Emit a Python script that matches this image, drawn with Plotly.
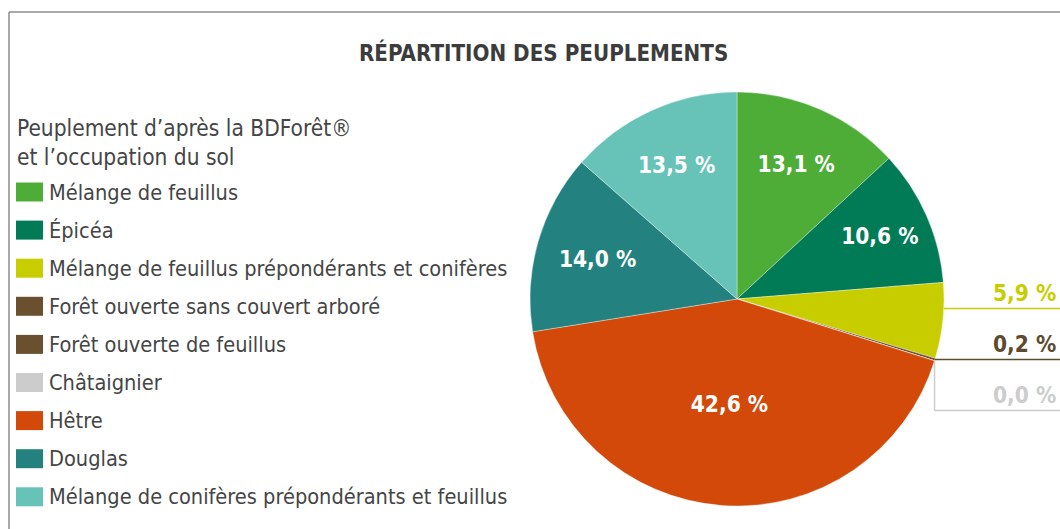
import math
import plotly.graph_objects as go

# ---- data ----
categories = [
    "Mélange de feuillus",
    "Épicéa",
    "Mélange de feuillus prépondérants et conifères",
    "Forêt ouverte sans couvert arboré",
    "Forêt ouverte de feuillus",
    "Châtaignier",
    "Hêtre",
    "Douglas",
    "Mélange de conifères prépondérants et feuillus",
]
values = [13.1, 10.6, 5.9, 0.2, 0.0, 0.0, 42.6, 14.0, 13.5]
show_label = [True, True, True, True, False, True, True, True, True]
colors = ["#4DAD36", "#007B56", "#C8CD00", "#6B5030", "#6B5030",
          "#CCCCCC", "#D2490A", "#238280", "#67C2B8"]
label_colors = ["#FFFFFF", "#FFFFFF", "#C8CD00", "#5E4A2C", "#5E4A2C",
                "#CCCCCC", "#FFFFFF", "#FFFFFF", "#FFFFFF"]
title_text = "RÉPARTITION DES PEUPLEMENTS"
legend_title = ["Peuplement d’après la BDForêt®", "et l’occupation du sol"]

# ---- layout constants ----
W, H = 1060, 529
CX, CY, R = 737, 299, 207
FONT = "DejaVu Sans Condensed, Roboto, sans-serif"
TXT = "#454545"
LABEL_GAP = 51

def fmt(v):
    return f"{v:.1f}".replace(".", ",") + " %"

def px(x):
    return x / W

def py(y):
    return 1 - y / H

total = sum(values)
inside = [v / total >= 0.08 for v in values]
texts = [fmt(v) if (ins and sl) else "" for v, ins, sl in zip(values, inside, show_label)]

fig = go.Figure(go.Pie(
    labels=categories,
    values=values,
    sort=False,
    direction="clockwise",
    rotation=0,
    marker=dict(colors=colors, line=dict(width=0.6, color="rgba(255,255,255,0.6)")),
    text=texts,
    textinfo="text",
    textposition="inside",
    insidetextorientation="horizontal",
    insidetextfont=dict(family=FONT, size=22.5, color="white", weight="bold"),
    domain=dict(x=[px(CX - R), px(CX + R)], y=[py(CY + R), py(CY - R)]),
    showlegend=False,
    hoverinfo="label+percent",
))

shapes = []
annotations = []

# outside labels for small slices: anchor at slice middle, stacked to avoid overlap
outs = []
cum = 0.0
for i, v in enumerate(values):
    start = cum
    cum += v / total
    if inside[i] or not show_label[i]:
        continue
    mid = (start + cum) / 2 * 2 * math.pi
    outs.append([i, CX + R * math.sin(mid), CY - R * math.cos(mid)])

# pivot: the last non-zero labelled slice keeps its anchor
piv = max(k for k, o in enumerate(outs) if values[o[0]] > 0)
ly = [o[2] for o in outs]
for k in range(piv - 1, -1, -1):
    ly[k] = min(ly[k], ly[k + 1] - LABEL_GAP)
for k in range(piv + 1, len(outs)):
    ly[k] = max(ly[k], ly[k - 1] + LABEL_GAP)

for (i, ax, ay), y in zip(outs, ly):
    col = label_colors[i]
    if y < ay - 1:
        x0 = CX + math.sqrt(max(R * R - (y - CY) ** 2, 0))
    else:
        x0 = ax
        if y > ay + 1:
            shapes.append(dict(type="line", xref="paper", yref="paper",
                               x0=px(ax), y0=py(ay), x1=px(ax), y1=py(y),
                               line=dict(color=col, width=1.5)))
    shapes.append(dict(type="line", xref="paper", yref="paper",
                       x0=px(x0), y0=py(y), x1=1.0, y1=py(y),
                       line=dict(color=col, width=1.5)))
    annotations.append(dict(x=px(1058), y=py(y - 1), xref="paper", yref="paper",
                            xanchor="right", yanchor="bottom", showarrow=False,
                            text=f"<b>{fmt(values[i])}</b>",
                            font=dict(family=FONT, size=22.5, color=col)))

# custom legend
annotations.append(dict(x=px(15), y=py(142), xref="paper", yref="paper",
                        xanchor="left", yanchor="middle", showarrow=False, align="left",
                        text="<br>".join(legend_title),
                        font=dict(family=FONT, size=22.5, color=TXT)))
for i, (c, col) in enumerate(zip(categories, colors)):
    yc = 192 + i * 38.1
    shapes.append(dict(type="rect", xref="paper", yref="paper",
                       x0=px(16), x1=px(43), y0=py(yc - 9.5), y1=py(yc + 9.5),
                       fillcolor=col, line=dict(width=0)))
    annotations.append(dict(x=px(47), y=py(yc), xref="paper", yref="paper",
                            xanchor="left", yanchor="middle", showarrow=False,
                            text=c, font=dict(family=FONT, size=21.6, color=TXT)))

# frame (top and left border)
shapes.append(dict(type="line", xref="paper", yref="paper",
                   x0=px(9), y0=py(12), x1=1.0, y1=py(12),
                   line=dict(color="#8C8C8C", width=1.5)))
shapes.append(dict(type="line", xref="paper", yref="paper",
                   x0=px(9), y0=py(12), x1=px(9), y1=0,
                   line=dict(color="#8C8C8C", width=1.5)))

# title
annotations.append(dict(x=px(543), y=py(52), xref="paper", yref="paper",
                        xanchor="center", yanchor="middle", showarrow=False,
                        text=f"<b>{title_text}</b>",
                        font=dict(family=FONT, size=22.2, color="#3C3C3C")))

fig.update_layout(
    width=W, height=H,
    margin=dict(l=0, r=0, t=0, b=0),
    paper_bgcolor="white",
    plot_bgcolor="white",
    shapes=shapes,
    annotations=annotations,
    showlegend=False,
)

fig.write_html("out.html", config={"displayModeBar": False},
               post_script="document.body.style.margin='0';document.body.style.overflow='hidden';")
